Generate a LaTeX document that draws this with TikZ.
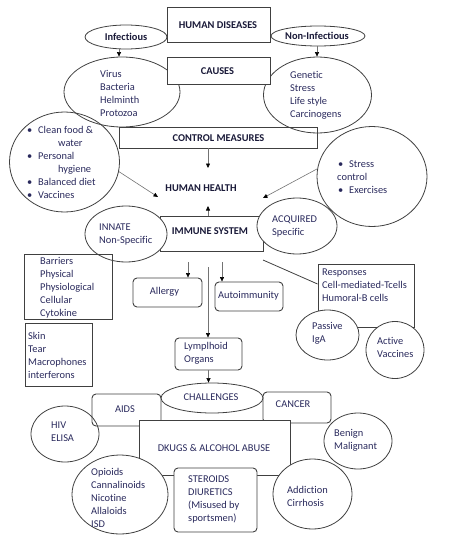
\documentclass[tikz,border=0pt]{standalone}
\usepackage{fontspec}
\setmainfont{Carlito}[Ligatures={NoCommon}]
\usetikzlibrary{shapes.geometric,arrows.meta,calc}
\definecolor{tc}{rgb}{0.16,0.16,0.36}
\definecolor{hc}{rgb}{0.10,0.10,0.22}
\definecolor{lc}{rgb}{0.25,0.25,0.25}
\definecolor{ac}{rgb}{0.45,0.45,0.45}
\tikzset{
  el/.style={draw=lc, ellipse, inner sep=0pt, line width=0.8pt},
  elw/.style={el, fill=white},
  bx/.style={draw=lc, rectangle, inner sep=0pt, line width=0.9pt},
  bxw/.style={bx, fill=white},
  rbx/.style={bx, rounded corners=4pt},
  rbxw/.style={rbx, fill=white},
  txt/.style={text=tc, font=\fontsize{10.4}{13}\selectfont, align=left, inner sep=0pt, anchor=west},
  ctxt/.style={text=tc, font=\fontsize{10.4}{13}\selectfont, inner sep=0pt},
  hd/.style={text=hc, font=\fontsize{10.4}{13}\selectfont\bfseries, inner sep=0pt},
  arr/.style={draw=ac, line width=0.6pt, -{Triangle[length=4.5pt,width=4pt,color=black]}},
  lnk/.style={draw=lc, line width=0.8pt}
}
\newcommand{\bul}{\makebox[11pt][l]{\textbullet}}
\begin{document}
\begin{tikzpicture}[x=1pt,y=-1pt]
\useasboundingbox (0,0) rectangle (457,538);
% ---------- shapes ----------
\node[el, minimum width=82pt, minimum height=24pt] (inf) at (126,37) {};
\node[el, minimum width=94pt, minimum height=20pt] (noninf) at (318,36) {};
\node[bxw, minimum width=103pt, minimum height=35pt] (hdis) at (218.5,24.5) {};
\node[el, minimum width=116pt, minimum height=70pt] (virus) at (122,92) {};
\node[el, minimum width=108pt, minimum height=76pt] (genetic) at (317.5,95) {};
\node[bxw, minimum width=103pt, minimum height=27pt] (causes) at (218.5,70.5) {};
\node[el, minimum width=110pt, minimum height=100pt] (clean) at (64.5,162) {};
\node[el, minimum width=110pt, minimum height=100pt] (stress) at (372,176.5) {};
\node[bx, minimum width=198pt, minimum height=21pt] (control) at (218,137.5) {};
\node[bxw, minimum width=103pt, minimum height=35pt] (immune) at (211.5,233.5) {};
\node[elw, minimum width=82pt, minimum height=56pt] (innate) at (126,234) {};
\node[elw, minimum width=80pt, minimum height=56pt] (acquired) at (297,226) {};
\node[bx, minimum width=88pt, minimum height=65pt] (barriers) at (68,286.5) {};
\node[bx, minimum width=67pt, minimum height=63pt] (skin) at (58.5,354.5) {};
\node[rbx, minimum width=69pt, minimum height=29pt] (allergy) at (167.5,292.5) {};
\node[rbx, minimum width=68pt, minimum height=29pt] (autoimm) at (249,296.5) {};
\node[bx, minimum width=96pt, minimum height=63pt] (resp) at (366,295.5) {};
\node[elw, minimum width=63pt, minimum height=50pt] (passive) at (327.5,335) {};
\node[elw, minimum width=58pt, minimum height=57pt] (active) at (395,350) {};
\node[rbx, minimum width=67pt, minimum height=32pt] (lymph) at (208.5,354) {};
\node[rbxw, minimum width=69pt, minimum height=32pt] (aids) at (126.5,410) {};
\node[rbxw, minimum width=68pt, minimum height=31pt] (cancer) at (297,407.5) {};
\node[elw, minimum width=102pt, minimum height=30pt] (chall) at (212,398) {};
\node[bxw, minimum width=151pt, minimum height=55pt] (drugs) at (214.5,447.5) {};
\node[el, minimum width=68pt, minimum height=56pt] (hiv) at (65,434) {};
\node[el, minimum width=68pt, minimum height=56pt] (benign) at (358,441) {};
\node[elw, minimum width=96pt, minimum height=79pt] (opioids) at (120,494.5) {};
\node[rbxw, minimum width=83pt, minimum height=64pt] (steroids) at (215.5,500) {};
\node[elw, minimum width=79pt, minimum height=70pt] (addict) at (312.5,494) {};
% ---------- connector ends ----------
\coordinate (xa) at (119,0);
\coordinate (xb) at (317,0);
\coordinate (hhN) at (208,168);
\coordinate (hhW) at (158,197);
\coordinate (hhE) at (263,198);
\coordinate (hhS) at (208,206);
\coordinate (al) at (188,262);
\coordinate (au) at (222,262);
\coordinate (ly) at (208,267);
\coordinate (rs) at (263,260);
% ---------- connectors ----------
\draw[arr] (inf.south -| xa) -- (virus.north -| xa);
\draw[arr] (noninf.south -| xb) -- (genetic.north -| xb);
\draw[arr] (control.south -| hhN) -- (hhN);
\draw[arr] (clean.-10) -- (hhW);
\draw[arr] (stress.172) -- (hhE);
\draw[arr] (immune.north -| hhS) -- (hhS);
\draw[arr] (al) -- (al |- allergy.north);
\draw[arr] (au) -- (au |- autoimm.north);
\draw[arr] (ly) -- (ly |- lymph.north);
\draw[lnk] (rs) -- ([yshift=11.5pt]resp.west);
\draw[arr] (lymph.south) -- (lymph.south |- chall.north);
% ---------- texts ----------
\node[hd] (t-inf) at (126,36.5) {Infectious};
\node[hd] (t-noninf) at (317,36) {Non-Infectious};
\node[hd] (t-hdis) at (218,25) {HUMAN DISEASES};
\node[hd] (t-causes) at (217.5,71) {CAUSES};
\node[hd] (t-control) at (218.5,138) {CONTROL MEASURES};
\node[hd] (t-health) at (201,188) {HUMAN HEALTH};
\node[hd] (t-immune) at (210,231.5) {IMMUNE SYSTEM};
\node[txt] (t-virus) at (100,93.5) {Virus\\Bacteria\\Helminth\\Protozoa};
\node[txt] (t-genetic) at (290,95.5) {Genetic\\Stress\\Life style\\Carcinogens};
\node[txt] (t-clean) at (27,162) {\bul Clean food \&\\\hspace*{31pt}water\\\bul Personal\\\hspace*{31pt}hygiene\\\bul Balanced diet\\\bul Vaccines};
\node[txt] (t-stress) at (337,177) {\hspace*{1pt}\bul Stress\\control\\\hspace*{1pt}\bul Exercises};
\node[txt] (t-innate) at (99,234.5) {INNATE\\Non-Specific};
\node[txt] (t-acq) at (272,226.5) {ACQUIRED\\Specific};
\node[txt] (t-barr) at (40,288) {Barriers\\Physical\\Physiological\\Cellular\\Cytokine};
\node[ctxt] (t-allergy) at (164.5,292) {Allergy};
\node[ctxt] (t-autoimm) at (248.5,296) {Autoimmunity};
\node[txt] (t-resp) at (322,285) {Responses\\Cell-mediated-Tcells\\Humoral-B cells};
\node[txt] (t-passive) at (312,333.5) {Passive\\IgA};
\node[txt] (t-active) at (377,347.5) {Active\\Vaccines};
\node[txt] (t-skin) at (28,355.5) {Skin\\Tear\\Macrophones\\interferons};
\node[txt] (t-lymph) at (184,353.5) {Lymplhoid\\Organs};
\node[ctxt] (t-chall) at (211,397.5) {CHALLENGES};
\node[ctxt] (t-aids) at (125,409) {AIDS};
\node[ctxt] (t-cancer) at (293,404.5) {CANCER};
\node[ctxt] (t-drugs) at (214,447.5) {DKUGS \& ALCOHOL ABUSE};
\node[txt] (t-hiv) at (51,432) {HIV\\ELISA};
\node[txt] (t-benign) at (334,440.5) {Benign\\Malignant};
\node[txt] (t-opioids) at (91,498) {Opioids\\Cannalinoids\\Nicotine\\Allaloids\\ISD};
\node[txt] (t-steroids) at (188,499.5) {STEROIDS\\DIURETICS\\(Misused by\\sportsmen)};
\node[txt] (t-addict) at (287,496.5) {Addiction\\Cirrhosis};
\end{tikzpicture}
\end{document}
